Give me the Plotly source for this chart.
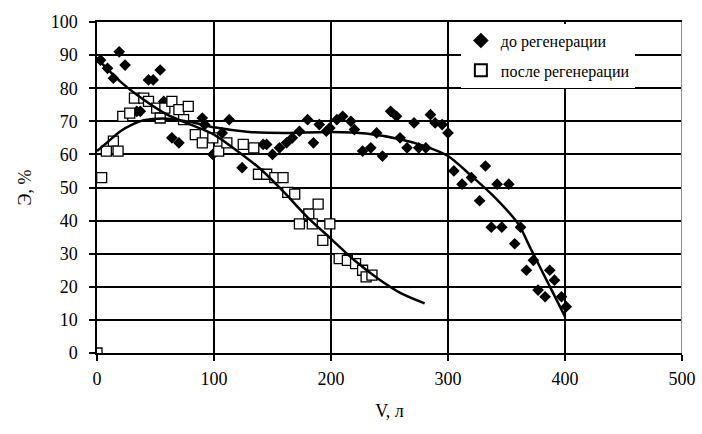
import plotly.graph_objects as go

# до регенерации (filled diamonds)
before_x = [3, 9, 14, 19, 24, 34, 37, 44, 48, 54, 57, 64, 70, 90, 92, 99, 107, 113, 124,
            142, 145, 150, 156, 162, 167, 173, 180, 185, 190, 196, 199, 205, 210, 217, 220,
            227, 234, 239, 244, 251, 256, 259, 265, 271, 275, 281, 285, 289, 295, 300,
            305, 312, 320, 327, 332, 337, 342, 346, 352, 357, 362, 367, 373, 377, 383,
            387, 391, 397, 401]
before_y = [88.5, 86, 83, 91, 87, 73, 73, 82.5, 82.5, 85.5, 76, 65, 63.5, 71, 69, 60, 66.5, 70.5, 56,
            63, 63, 60, 62, 63.5, 65, 67, 70.5, 63.5, 69, 67, 68, 70.5, 71.5, 70, 67.5,
            61, 62, 66.5, 59.5, 73, 71.5, 65, 62, 69.5, 62, 62, 72, 69.5, 69, 66.5,
            55, 51, 53, 46, 56.5, 38, 51, 38, 51, 33, 38, 25, 28, 19, 17,
            25, 22, 17, 14]

# после регенерации (open squares)
after_x = [0, 4, 8, 14, 18, 22, 28, 32, 40, 44, 51, 54, 58, 64, 70, 74, 78, 84, 90, 99,
           104, 111, 125, 134, 138, 145, 152, 159, 163, 169, 173, 181, 184, 189, 193, 199,
           207, 214, 221, 227, 230, 235]
after_y = [0, 53, 61, 64, 61, 71.5, 72.5, 77, 77, 76, 74, 71, 74, 76, 73.5, 70.5, 74.5, 66, 63.5, 65,
           61, 63.5, 63, 62, 54, 54, 53, 53, 48.5, 48, 39, 42, 39, 45, 34, 39,
           28.5, 28, 27, 25, 23, 23.5]

# trend lines
trend_before_x = [0, 10, 20, 30, 40, 60, 80, 100, 130, 160, 200, 230, 260, 280, 300, 320, 340, 360, 370, 380, 390, 400]
trend_before_y = [61, 64, 67, 69, 70.3, 70.8, 69.8, 68.2, 66.8, 66.5, 66.8, 66.3, 64.5, 62.5, 59.5, 53.5, 47, 39, 32, 25, 18, 11]
trend_after_x = [0, 20, 40, 60, 80, 100, 120, 140, 160, 180, 200, 220, 240, 260, 280]
trend_after_y = [89, 82, 76.5, 72, 69, 66, 61, 55.5, 48.5, 41, 34.5, 28, 22.5, 18, 15]

x_ticks = [0, 100, 200, 300, 400, 500]
y_ticks = [0, 10, 20, 30, 40, 50, 60, 70, 80, 90, 100]

FONT = "'Liberation Serif', 'Times New Roman', serif"

fig = go.Figure()
fig.add_trace(go.Scatter(
    x=before_x, y=before_y, mode="markers", name="до регенерации", legendgroup="a",
    marker=dict(symbol="diamond", size=9, color="black", line=dict(width=0)),
))
fig.add_trace(go.Scatter(
    x=after_x, y=after_y, mode="markers", name="после регенерации", legendgroup="b",
    marker=dict(symbol="square", size=10, color="white", line=dict(width=1.3, color="black")),
))
fig.add_trace(go.Scatter(
    x=trend_before_x, y=trend_before_y, mode="lines", showlegend=False,
    line=dict(color="black", width=2.5, shape="spline", smoothing=0.8),
))
fig.add_trace(go.Scatter(
    x=trend_after_x, y=trend_after_y, mode="lines", showlegend=False,
    line=dict(color="black", width=2.5, shape="spline", smoothing=0.8),
))

fig.add_shape(type="line", xref="x", yref="y", x0=500, x1=500, y0=0, y1=100,
              line=dict(color="#8c8c8c", width=2), layer="above")

fig.update_layout(
    width=702, height=434,
    margin=dict(l=97, r=20, t=22, b=81, autoexpand=False),
    paper_bgcolor="white", plot_bgcolor="white",
    font=dict(family=FONT, size=17, color="black"),
    showlegend=True,
    legend=dict(x=0.622, y=0.995, xanchor="left", yanchor="top",
                bgcolor="white", borderwidth=0,
                font=dict(family=FONT, size=16, color="black"),
                itemsizing="constant", tracegroupgap=6, itemwidth=30),
    xaxis=dict(
        range=[0, 500], tickmode="array", tickvals=x_ticks,
        ticktext=[str(v) for v in x_ticks], automargin=False,
        showgrid=True, gridcolor="black", gridwidth=1.5,
        showline=True, linecolor="black", linewidth=1.5, mirror=True,
        ticks="outside", ticklen=6, tickcolor="black", tickwidth=1.5,
        zeroline=False, ticklabelstandoff=3,
        title=dict(text="V, л", font=dict(family=FONT, size=18, color="black"), standoff=16),
        tickfont=dict(family=FONT, size=18, color="black"),
    ),
    yaxis=dict(
        range=[0, 100], tickmode="array", tickvals=y_ticks,
        ticktext=[str(v) for v in y_ticks], automargin=False,
        showgrid=True, gridcolor="black", gridwidth=1.5,
        showline=True, linecolor="black", linewidth=1.5,
        ticks="outside", ticklen=6, tickcolor="black", tickwidth=1.5,
        zeroline=False, ticklabelstandoff=8,
        title=dict(text="Э, %", font=dict(family=FONT, size=18, color="black"), standoff=14),
        tickfont=dict(family=FONT, size=18, color="black"),
    ),
)

fig.write_html("out.html")
